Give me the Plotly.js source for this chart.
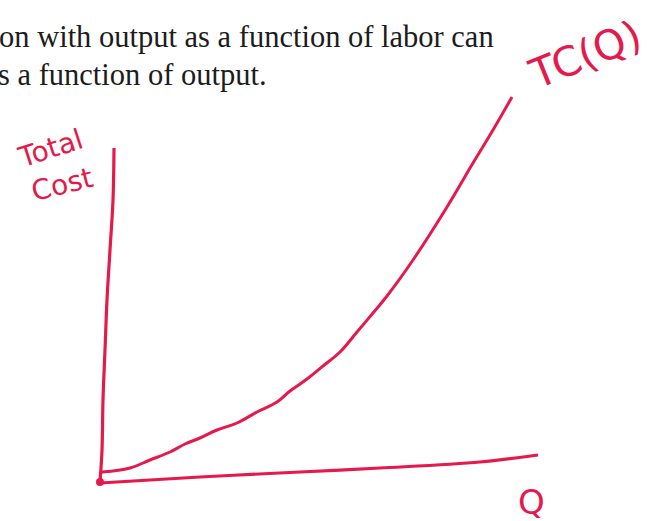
<!DOCTYPE html>
<html>
<head>
<meta charset="utf-8">
<script src="https://cdn.plot.ly/plotly-3.0.1.min.js"></script>
<style>
  html, body { margin: 0; padding: 0; background: #ffffff; }
  #chart { width: 657px; height: 521px; }
</style>
</head>
<body>
<div id="chart"></div>
<script>
// Sketched total cost curve TC(Q): quantity on x, total cost on y.
// Units are arbitrary sketch units measured from the corner of the axes.
const curveQ  = [2, 30, 50, 70, 85, 100, 117, 137, 157, 177, 190, 207, 223, 240, 257, 273, 287, 313, 347, 373, 393, 412];
const curveTC = [9, 13, 21, 29, 37, 43, 51, 58, 69, 79, 90, 102, 115, 129, 149, 168, 185, 221, 274, 318, 351, 384];

// Hand-drawn axes (slightly wobbly pen strokes)
const costAxisQ  = [0, 2, 3, 5, 7, 10, 13, 14];
const costAxisTC = [-1, 31, 81, 131, 181, 231, 281, 333];
const qAxisQ  = [0, 100, 200, 280, 380, 438];
const qAxisTC = [-2, 4, 9, 13, 19, 26];

// Text lines from the page above the sketch
const textLines = [
  'on with output as a function of labor can',
  's a function of output.'
];

const pen = '#e5194b';

const traces = [
  { x: costAxisQ, y: costAxisTC, mode: 'lines', line: { color: pen, width: 3.2, shape: 'spline' }, hoverinfo: 'skip' },
  { x: qAxisQ, y: qAxisTC, mode: 'lines', line: { color: pen, width: 3.2, shape: 'spline' }, hoverinfo: 'skip' },
  { x: curveQ, y: curveTC, mode: 'lines', line: { color: pen, width: 3, shape: 'spline', smoothing: 1.1 }, hoverinfo: 'skip' },
  { x: [0], y: [-1], mode: 'markers', marker: { color: pen, size: 8 }, hoverinfo: 'skip' }
];

const serif = { family: 'Liberation Serif, Times New Roman, serif', size: 30.5, color: '#1c1c1c' };
const hand = (size) => ({ family: 'DejaVu Sans, sans-serif', size: size, color: pen });

const layout = {
  width: 657,
  height: 521,
  margin: { l: 0, r: 0, t: 0, b: 0 },
  paper_bgcolor: '#ffffff',
  plot_bgcolor: '#ffffff',
  showlegend: false,
  xaxis: { range: [-100, 557], visible: false, fixedrange: true },
  yaxis: { range: [-40, 481], visible: false, fixedrange: true },
  annotations: [
    { x: -0.004, y: 444, xref: 'paper', yref: 'y', xanchor: 'left', yanchor: 'middle', text: textLines[0], showarrow: false, font: serif },
    { x: -0.0055, y: 406, xref: 'paper', yref: 'y', xanchor: 'left', yanchor: 'middle', text: textLines[1], showarrow: false, font: serif },
    { x: 485, y: 426, xref: 'x', yref: 'y', text: 'TC(Q)', showarrow: false, textangle: -22, font: hand(41) },
    { x: -50, y: 333, xref: 'x', yref: 'y', text: 'Total', showarrow: false, textangle: -18, font: hand(28) },
    { x: -38, y: 297, xref: 'x', yref: 'y', text: 'Cost', showarrow: false, textangle: -14, font: hand(28) },
    { x: 431, y: -21, xref: 'x', yref: 'y', text: 'Q', showarrow: false, font: hand(34) }
  ]
};

Plotly.newPlot('chart', traces, layout, { staticPlot: true, displayModeBar: false });
</script>
</body>
</html>
